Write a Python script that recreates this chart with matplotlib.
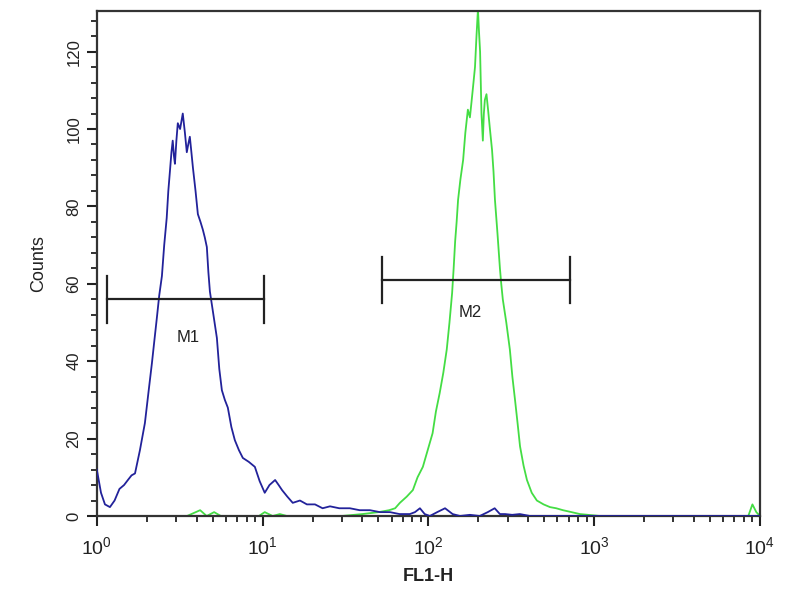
import matplotlib
matplotlib.use("Agg")
import matplotlib.pyplot as plt
from matplotlib.ticker import LogLocator, MultipleLocator, NullFormatter, FixedLocator

plt.rcParams['font.family'] = ['Liberation Sans', 'DejaVu Sans']
plt.rcParams['mathtext.fontset'] = 'custom'
plt.rcParams['mathtext.rm'] = 'Liberation Sans'

# Blue histogram (FL1-H value, counts)
blue_x = [1.00, 1.01, 1.06, 1.12, 1.20, 1.28, 1.37, 1.46, 1.54, 1.62, 1.70, 1.82, 1.95, 2.05,
          2.15, 2.22, 2.30, 2.38, 2.47, 2.55, 2.64, 2.70, 2.76, 2.82, 2.87, 2.92, 2.96, 3.02,
          3.08, 3.18, 3.30, 3.40, 3.49, 3.56, 3.64, 3.72, 3.80, 3.94, 4.07, 4.22, 4.36, 4.48,
          4.61, 4.71, 4.81, 5.05, 5.30, 5.48, 5.68, 5.92, 6.17, 6.48, 6.80, 7.20, 7.60, 8.25,
          8.98, 9.60, 10.3, 11.0, 11.9, 12.5, 13.1, 14.1, 15.2, 16.8, 18.5, 20.7, 23.0, 25.5,
          29.0, 33.6, 38.5, 44.4, 51.0, 58.6, 67.0, 77.3, 83.0, 88.9, 95.0, 102, 113, 126,
          140, 155, 178, 204, 228, 251, 270, 290, 320, 356, 410, 470, 1000, 10000]
blue_y = [12, 11, 6, 3, 2.3, 4, 7, 8, 9.3, 10.5, 11, 17, 24, 32,
          39.5, 45, 51, 57, 62, 70, 77, 84, 89, 94, 97, 93, 91, 97,
          101.5, 100, 104, 99, 94, 96, 98, 94, 90, 84, 78, 76, 74, 72,
          69.5, 63, 58, 52, 46, 38, 32.5, 30, 28, 23, 19.6, 17, 15, 14,
          12.7, 9, 6, 8, 9.3, 8, 6.7, 5, 3.4, 4, 3, 3, 2, 2.5,
          2, 2, 1.5, 1.5, 1, 1, 0.5, 0.5, 1, 2, 0.5, 0, 1, 2,
          0.5, 0, 0.3, 0, 1, 2, 0.5, 0.5, 0.3, 0.5, 0, 0, 0, 0]

# Green histogram (FL1-H value, counts)
green_x = [1.00, 3.5, 4.2, 4.6, 5.1, 5.6, 9.5, 10.3, 11.5, 12.7, 14, 20, 30, 40, 50, 58, 63,
           67.3, 74, 80.6, 86, 92.6, 99, 106, 111, 117, 123, 129, 134, 139, 142, 145, 148,
           151, 156, 162, 167, 173, 178, 183, 187, 191, 195, 199, 202, 205, 209, 213, 216,
           219, 224, 229, 235, 242, 247, 252, 261, 270, 275, 281, 295, 310, 321, 333, 345,
           357, 375, 393, 420, 451, 495, 541, 590, 648, 730, 820, 1084, 3000, 8500, 9000,
           9500, 10000]
green_y = [0, 0, 1.5, 0, 1, 0, 0, 1, 0, 0.5, 0, 0, 0, 0.5, 1, 1.5, 2,
           3.4, 5, 6.7, 10, 12.7, 17, 21.4, 27, 31.8, 37, 43, 50, 57.6, 64, 71, 76,
           81.7, 87, 92, 99, 105, 103, 108, 112, 116, 124, 131, 125, 120, 104, 97, 104,
           107.5, 109, 105, 100, 94.6, 89, 81.7, 73, 64, 60, 56, 50, 43, 36, 30, 24,
           18, 13, 9.3, 6, 4, 3, 2.3, 2, 1.5, 1, 0.5, 0, 0, 0, 3,
           1, 0]

# Markers: (label, left, right, level, label_x, label_y)
marker_names = ["M1", "M2"]
marker_left = [1.16, 52.4]
marker_right = [10.2, 714]
marker_level = [56, 61]
marker_label_x = [3.54, 178]
marker_label_y = [46, 52.5]
cap_half = 6

fig = plt.figure(figsize=(8, 6), dpi=100)
ax = fig.add_axes([0.121, 0.14, 0.829, 0.8417])

ax.plot(green_x, green_y, color='#44dd44', lw=1.3, zorder=2)
ax.plot(blue_x, blue_y, color='#22229a', lw=1.3, zorder=3)

for name, l, r, lev, lx, ly in zip(marker_names, marker_left, marker_right, marker_level,
                                    marker_label_x, marker_label_y):
    ax.plot([l, r], [lev, lev], color='#222222', lw=1.6, zorder=4)
    ax.plot([l, l], [lev - cap_half, lev + cap_half], color='#222222', lw=1.6, zorder=4)
    ax.plot([r, r], [lev - cap_half, lev + cap_half], color='#222222', lw=1.6, zorder=4)
    ax.text(lx, ly, name, ha='center', va='center', fontsize=12, color='#222222', zorder=5)

ax.set_xscale('log')
ax.set_xlim(1, 10000)
ax.set_ylim(0, 130.5)

ax.xaxis.set_major_locator(FixedLocator([1, 10, 100, 1000, 10000]))
ax.set_xticklabels([r'$10^{0}$', r'$10^{1}$', r'$10^{2}$', r'$10^{3}$', r'$10^{4}$'])
ax.xaxis.set_minor_locator(LogLocator(base=10, subs=range(2, 10)))
ax.xaxis.set_minor_formatter(NullFormatter())
ax.yaxis.set_major_locator(MultipleLocator(20))
ax.yaxis.set_minor_locator(MultipleLocator(4))

for lab in ax.get_yticklabels():
    lab.set_rotation(90)
    lab.set_va('center')
ax.tick_params(axis='both', which='major', direction='out', length=7, width=1.5,
               labelsize=12, colors='#222222')
ax.tick_params(axis='x', which='major', labelsize=14, pad=8)
ax.tick_params(axis='both', which='minor', direction='out', length=4, width=1.3,
               colors='#222222')
ax.tick_params(axis='y', pad=4)

for s in ax.spines.values():
    s.set_linewidth(1.6)
    s.set_color('#333333')

ax.set_ylabel('Counts', fontsize=13, color='#222222', labelpad=14)
ax.set_xlabel('FL1-H', fontsize=13, fontweight='bold', color='#222222', labelpad=6)

fig.savefig('out.png', dpi=100)
